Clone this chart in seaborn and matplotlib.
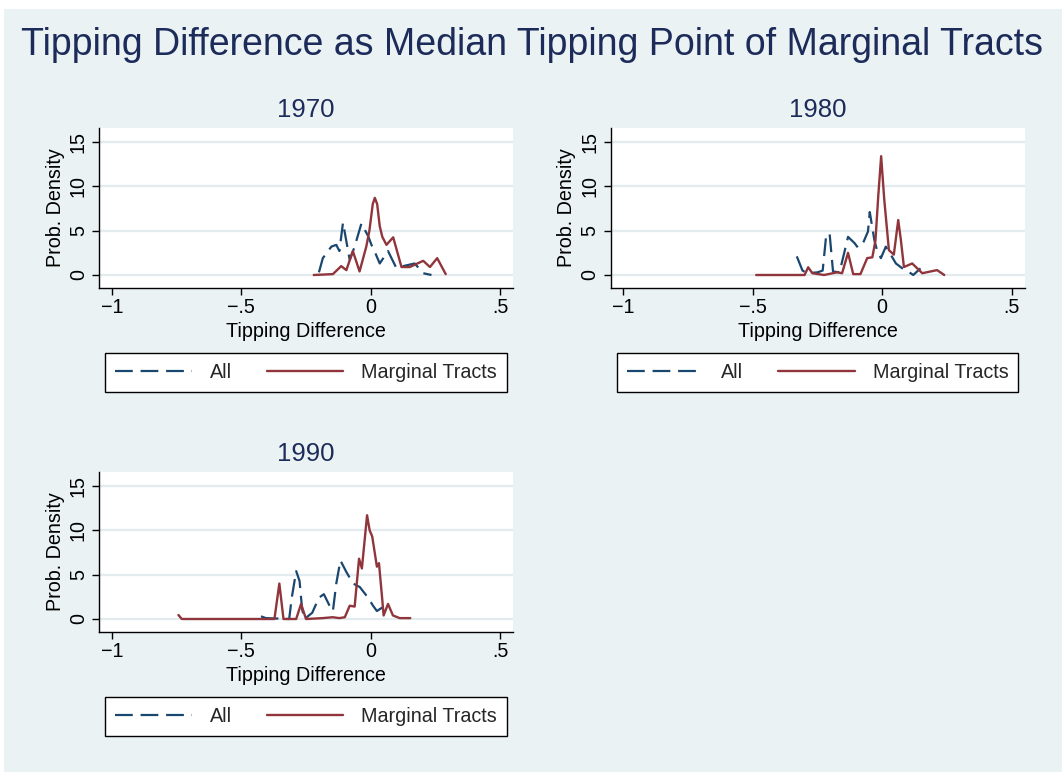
import matplotlib
matplotlib.use("Agg")
import matplotlib.pyplot as plt
from matplotlib.patches import Rectangle
from matplotlib.lines import Line2D
import seaborn as sns
import pandas as pd

# ---------------- data ----------------
x1970_all = [-0.20, -0.185, -0.152, -0.133, -0.121, -0.107, -0.081, -0.062, -0.036, -0.01,
             0.003, 0.016, 0.035, 0.067, 0.099, 0.125, 0.17, 0.203, 0.235]
y1970_all = [0.3, 1.9, 3.2, 3.4, 2.7, 5.9, 1.7, 3.2, 5.8, 4.4,
             3.4, 2.6, 1.3, 2.7, 0.8, 1.0, 1.3, 0.2, 0.0]
x1970_marg = [-0.22, -0.146, -0.114, -0.094, -0.069, -0.043, -0.017, -0.005, 0.008, 0.016,
              0.025, 0.035, 0.045, 0.061, 0.087, 0.119, 0.151, 0.203, 0.229, 0.257, 0.29]
y1970_marg = [0.0, 0.1, 1.0, 0.55, 2.7, 0.4, 3.2, 5.0, 8.0, 8.7,
              8.0, 5.5, 4.3, 3.4, 4.25, 0.9, 0.9, 1.6, 0.9, 1.9, 0.1]

x1980_all = [-0.33, -0.308, -0.29, -0.25, -0.23, -0.216, -0.203, -0.19, -0.165, -0.15,
             -0.132, -0.107, -0.094, -0.074, -0.055, -0.048, -0.03, -0.02, -0.005, 0.014,
             0.033, 0.053, 0.078, 0.11, 0.12, 0.148]
y1980_all = [2.1, 0.5, 0.2, 0.3, 0.5, 4.6, 4.6, 0.4, 0.3, 2.1,
             4.3, 3.6, 3.1, 3.6, 4.9, 7.1, 3.9, 2.8, 1.9, 3.2,
             2.3, 1.3, 0.75, 0.2, 0.0, 0.75]
x1980_marg = [-0.487, -0.30, -0.286, -0.27, -0.225, -0.174, -0.155, -0.132, -0.112, -0.084,
              -0.058, -0.038, -0.026, -0.015, -0.004, 0.008, 0.026, 0.045, 0.062, 0.072,
              0.084, 0.116, 0.155, 0.187, 0.212, 0.24]
y1980_marg = [0.0, 0.0, 0.87, 0.2, 0.0, 0.3, 0.2, 2.5, 0.1, 0.1,
              1.9, 2.0, 3.9, 9.0, 13.4, 8.5, 2.8, 2.3, 6.2, 4.0,
              0.9, 1.3, 0.2, 0.4, 0.55, 0.0]

x1990_all = [-0.424, -0.405, -0.315, -0.305, -0.288, -0.275, -0.265, -0.256, -0.226, -0.2,
             -0.181, -0.159, -0.146, -0.133, -0.117, -0.094, -0.068, -0.042, -0.01, 0.009,
             0.024, 0.045, 0.054]
y1990_all = [0.3, 0.1, 0.0, 2.4, 5.4, 4.3, 1.1, 0.0, 0.7, 2.4,
             2.8, 1.5, 0.9, 4.0, 6.6, 5.3, 4.0, 3.6, 2.4, 1.5,
             0.9, 1.3, 0.7]
x1990_marg = [-0.743, -0.73, -0.372, -0.353, -0.337, -0.288, -0.269, -0.25, -0.185, -0.147,
              -0.121, -0.1, -0.081, -0.062, -0.045, -0.034, -0.014, -0.004, 0.006, 0.024,
              0.032, 0.045, 0.05, 0.067, 0.086, 0.112, 0.153]
y1990_marg = [0.45, 0.0, 0.0, 4.0, 0.0, 0.0, 1.7, 0.0, 0.1, 0.2,
              0.1, 0.2, 1.5, 1.4, 6.8, 5.7, 11.7, 10.0, 9.3, 5.9,
              6.3, 2.1, 0.4, 1.7, 0.4, 0.1, 0.1]

years = ["1970", "1980", "1990"]
series_names = ["All", "Marginal Tracts"]
x_ticks = [-1, -0.5, 0, 0.5]
x_ticklabels = ["\u22121", "\u2212.5", "0", ".5"]
y_ticks = [0, 5, 10, 15]
title = "Tipping Difference as Median Tipping Point of Marginal Tracts"
xlabel = "Tipping Difference"
ylabel = "Prob. Density"

panels = {
    "1970": (x1970_all, y1970_all, x1970_marg, y1970_marg),
    "1980": (x1980_all, y1980_all, x1980_marg, y1980_marg),
    "1990": (x1990_all, y1990_all, x1990_marg, y1990_marg),
}

# ---------------- style ----------------
sns.set_theme(style="white")
plt.rcParams["font.family"] = ["Liberation Sans", "DejaVu Sans"]
BG = "#EAF2F3"
GRID = "#E3EBEE"
NAVY = "#1C2B5A"
BLUE = "#1A476F"
RED = "#90353B"
FS = 14.2

W, H = 1062, 772
fig = plt.figure(figsize=(W / 100, H / 100), dpi=100, facecolor="white")
fig.patches.append(Rectangle((4 / W, 0), 1, (H - 9) / H, transform=fig.transFigure,
                             facecolor=BG, edgecolor="none", zorder=-10))

positions = {
    "1970": (99, 128),
    "1980": (610.5, 128),
    "1990": (99, 472),
}
aw, ah = 414, 160

for yr in years:
    left, top = positions[yr]
    ax = fig.add_axes([left / W, 1 - (top + ah) / H, aw / W, ah / H])
    xa, ya, xm, ym = panels[yr]
    ax.set_facecolor("white")
    for yv in y_ticks:
        ax.axhline(yv, color=GRID, lw=1.6, zorder=0)
    sns.lineplot(x=xa, y=ya, ax=ax, color=BLUE, lw=1.6, sort=False, estimator=None,
                 linestyle=(0, (8, 3.5)), zorder=2)
    sns.lineplot(x=xm, y=ym, ax=ax, color=RED, lw=1.7, sort=False, estimator=None,
                 zorder=3)
    ax.set_xlim(-1.05, 0.55)
    ax.set_ylim(-13 / 8.867, 147 / 8.867)
    ax.set_xticks(x_ticks)
    ax.set_xticklabels(x_ticklabels)
    ax.set_yticks(y_ticks)
    ax.set_yticklabels([str(v) for v in y_ticks], rotation=90, va="center")
    ax.grid(False)
    for s in ["top", "right"]:
        ax.spines[s].set_visible(False)
    for s in ["left", "bottom"]:
        ax.spines[s].set_color("black")
        ax.spines[s].set_linewidth(1.0)
    ax.tick_params(axis="both", which="major", direction="out", length=5, width=1.0,
                   color="black", labelsize=FS, labelcolor="black", bottom=True, left=True)
    ax.tick_params(axis="x", pad=2.5)
    ax.tick_params(axis="y", pad=3)
    ax.set_xlabel(xlabel, fontsize=FS, color="black", labelpad=3)
    ax.set_ylabel(ylabel, fontsize=FS, color="black", labelpad=3)
    ax.text(0.5, 1 + 11 / ah, yr, transform=ax.transAxes, ha="center", va="baseline",
            fontsize=18.5, color=NAVY)
    handles = [Line2D([], [], color=BLUE, lw=1.6, linestyle=(0, (8, 3.5))),
               Line2D([], [], color=RED, lw=1.7)]
    leg = ax.legend(handles, series_names, loc="upper left",
                    bbox_to_anchor=(0.015, -0.405, 0.97, 0.0), mode="expand", ncol=2,
                    borderaxespad=0, fontsize=FS, frameon=True, fancybox=False,
                    framealpha=1, edgecolor="black", handlelength=3.9,
                    handletextpad=0.9, borderpad=0.5)
    leg.get_frame().set_linewidth(1.0)
    leg.get_frame().set_facecolor("white")

fig.text(532 / W, 1 - 55 / H, title, ha="center", va="baseline", fontsize=27, color=NAVY)

fig.savefig("out.png", dpi=100, facecolor=fig.get_facecolor())
